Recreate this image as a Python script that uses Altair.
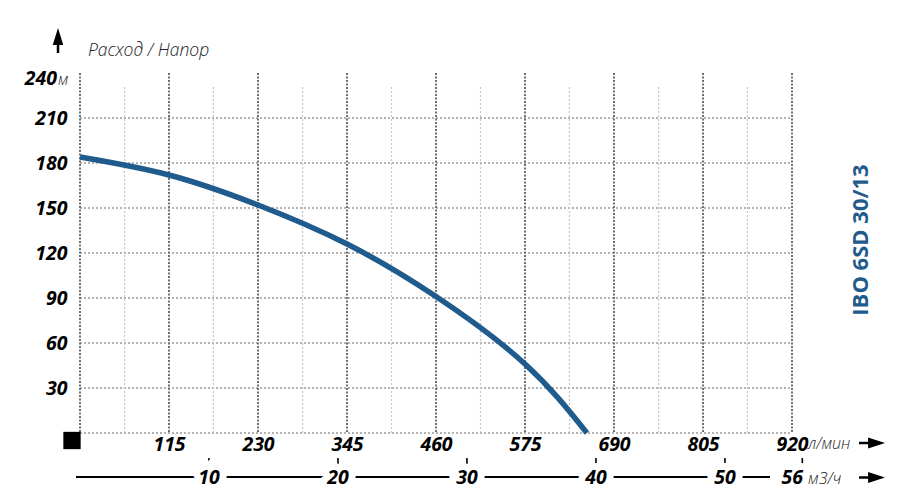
import altair as alt
import pandas as pd

# ---- data ----
flow_lpm = [0, 115, 230, 345, 460, 575, 655]
head_m = [184, 172, 152, 126, 91, 46, 0]

x_tick_values = [115, 230, 345, 460, 575, 690, 805, 920]
x_major_grid = [0, 115, 230, 345, 460, 575, 690, 805, 920]
x_minor_grid = [57.5, 172.5, 287.5, 402.5, 517.5, 632.5, 747.5, 862.5]
y_tick_values = [30, 60, 90, 120, 150, 180, 210]
y_grid_values = [0, 30, 60, 90, 120, 150, 180, 210]
m3h_ticks = [10, 20, 30, 40, 50, 56]
m3h_labels = ["10", "20", "30", "40", "50", "56"]

LPM_PER_M3H = 1000 / 60

W, H = 712, 360
BLUE = "#1f5b8c"
FONT = "Open Sans"

xs = alt.Scale(domain=[0, 920], nice=False, zero=False)
ys = alt.Scale(domain=[0, 240], nice=False, zero=False)

x_axis = alt.Axis(
    values=x_tick_values, orient="bottom", title=None, domain=False,
    ticks=False, grid=False, labelBaseline="middle", labelPadding=11,
    labelFont=FONT, labelFontSize=19.5, labelFontWeight="bold",
    labelFontStyle="italic", labelColor="#000", labelFlush=False,
    labelOverlap=False)
y_axis = alt.Axis(
    values=y_tick_values, orient="left", title=None, domain=False,
    ticks=False, grid=False, labelBaseline="middle", labelPadding=13,
    labelFont=FONT, labelFontSize=19.5, labelFontWeight="bold",
    labelFontStyle="italic", labelColor="#000", labelFlush=False,
    labelOverlap=False)

curve_df = pd.DataFrame({"flow": flow_lpm, "head": head_m})
hgrid_df = pd.DataFrame({"h": y_grid_values})
vmaj_df = pd.DataFrame({"f": x_major_grid})
vmin_df = pd.DataFrame({"f": x_minor_grid})
m3_df = pd.DataFrame({"f": [v * LPM_PER_M3H for v in m3h_ticks], "lab": m3h_labels})

hgrid = alt.Chart(hgrid_df).mark_rule(
    stroke="#9a9a9a", strokeDash=[2, 2], strokeWidth=1.3
).encode(
    y=alt.Y("h:Q", scale=ys, axis=y_axis),
    x=alt.value(0), x2=alt.value(W),
)

vminor = alt.Chart(vmin_df).mark_rule(
    stroke="#c4c4c4", strokeDash=[2, 2], strokeWidth=1.2
).encode(
    x=alt.X("f:Q", scale=xs, axis=x_axis),
    y=alt.value(14), y2=alt.value(H),
)

vmajor = alt.Chart(vmaj_df).mark_rule(
    stroke="#707070", strokeDash=[2, 1.5], strokeWidth=2
).encode(
    x=alt.X("f:Q", scale=xs, axis=x_axis),
    y=alt.value(0), y2=alt.value(H),
)

curve = alt.Chart(curve_df).mark_line(
    color=BLUE, strokeWidth=5.5, interpolate="natural"
).encode(
    x=alt.X("flow:Q", scale=xs, axis=x_axis),
    y=alt.Y("head:Q", scale=ys, axis=y_axis),
)

# second (m3/h) axis
m3_line = alt.Chart(m3_df).mark_rule(color="#000", strokeWidth=2).encode(
    x=alt.value(-4), x2=alt.value(690), y=alt.value(404)
)
m3_ticks = alt.Chart(m3_df).mark_rule(color="#000", strokeWidth=1.6).encode(
    x=alt.X("f:Q", scale=xs, axis=x_axis), y=alt.value(385), y2=alt.value(392)
)


def m3_text_layer(mask, last):
    props = dict(font=FONT, fontSize=19.5, fontWeight="bold", fontStyle="italic",
                 baseline="middle", dx=-10 if last else 0)
    if mask:
        props.update(fill="white", stroke="white", strokeWidth=14)
    else:
        props.update(color="#000")
    cond = "datum.lab == '56'" if last else "datum.lab != '56'"
    return alt.Chart(m3_df).mark_text(**props).encode(
        x=alt.X("f:Q", scale=xs, axis=x_axis), y=alt.value(405), text="lab:N"
    ).transform_filter(cond)


m3_layers = [m3_text_layer(True, False), m3_text_layer(True, True),
             m3_text_layer(False, False), m3_text_layer(False, True)]

# annotation texts
one = pd.DataFrame({"a": [0]})


def txt(text, x, y, size, weight="normal", style="italic", align="left",
        color="#000", angle=0):
    return alt.Chart(one).mark_text(
        text=text, font=FONT, fontSize=size, fontWeight=weight,
        fontStyle=style, align=align, baseline="middle", color=color,
        angle=angle
    ).encode(x=alt.value(x), y=alt.value(y))


t240 = txt("240", -23, 6, 19.5, weight="bold", align="right")
t_m = txt("м", -22, 7, 15.5, weight=300, color="#222")
t_title = txt("Расход / Напор", 8, -22, 17.5, weight=300, color="#222")
t_lpm = txt("л/мин", 728, 371, 16, weight=300, color="#222")
t_m3h = txt("м3/ч", 728, 406, 16, weight=300, color="#222")
t_model = txt("IBO 6SD 30/13", 781, 167, 22, weight="bold", style="normal",
              align="center", color=BLUE, angle=270)

arrow_h = "M-1,-0.1L-0.3,-0.1L-0.3,-0.42L1,0L-0.3,0.42L-0.3,0.1L-1,0.1Z"
arrow_v = "M-0.1,1L-0.1,0.36L-0.42,0.36L0,-1L0.42,0.36L0.1,0.36L0.1,1Z"


def sym(shape, x, y, size):
    return alt.Chart(one).mark_point(
        shape=shape, filled=True, color="#000", opacity=1, size=size,
        strokeWidth=0
    ).encode(x=alt.value(x), y=alt.value(y))


a_y = sym(arrow_v, -22, -32.5, 625)
a_x1 = sym(arrow_h, 792, 370, 676)
a_x2 = sym(arrow_h, 792, 404.5, 676)
square = sym("square", -8, 367.5, 300)

chart = alt.layer(
    hgrid, vminor, vmajor, curve,
    m3_line, m3_ticks, *m3_layers,
    t240, t_m, t_title, t_lpm, t_m3h, t_model,
    a_y, a_x1, a_x2, square,
).properties(
    width=W, height=H,
    autosize=alt.AutoSizeParams(type="none"),
    padding={"left": 72, "top": 65, "right": 115, "bottom": 60},
    background="white",
).configure_view(stroke=None)

chart.save("out.html", embed_options={"renderer": "svg", "actions": False})
